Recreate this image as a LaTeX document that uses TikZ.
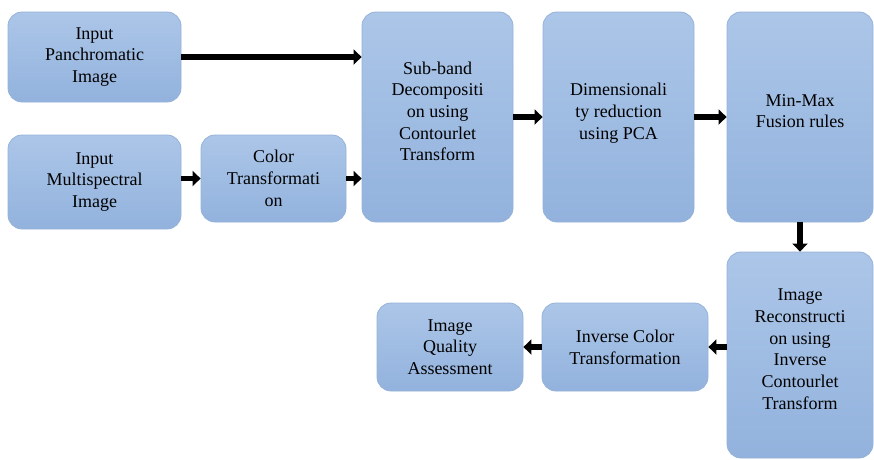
\documentclass[tikz,border=0pt]{standalone}
\usepackage{fontspec}
\setmainfont{Liberation Serif}
\usetikzlibrary{arrows.meta}

\definecolor{blocktop}{RGB}{172,198,232}
\definecolor{blockbot}{RGB}{146,178,221}
\definecolor{blockedge}{RGB}{150,178,216}

\begin{document}
\begin{tikzpicture}[x=1pt,y=-1pt,
   block/.style={draw=blockedge,line width=0.8pt,rounded corners=14pt,
      top color=blocktop,bottom color=blockbot,align=center,inner sep=0pt,
      font=\fontsize{18}{21.7}\selectfont},
   flow/.style={line width=5.5pt,-{Triangle[length=8pt,width=15pt]}},
   ]
   \useasboundingbox (0,0) rectangle (874,459);
   % input side
   \node[block,minimum width=173pt,minimum height=90pt] (pan) at (94.5,57)
      {Input\\Panchromatic\\Image};
   \node[block,minimum width=173pt,minimum height=94pt] (multi) at (94.5,182)
      {Input\\Multispectral\\Image};
   \node[block,minimum width=145pt,minimum height=87pt] (ctrans) at (273.5,178.5)
      {Color\\Transformati\\on};
   % tall processing blocks (text sits a little above the middle)
   \node[block,minimum width=151pt,minimum height=210pt] (subband) at (437.5,117)
      {Sub-band\\Decompositi\\on using\\Contourlet\\Transform\\[-10pt]};
   \node[block,minimum width=151pt,minimum height=210pt] (dimred) at (618.5,117)
      {Dimensionali\\ty reduction\\using PCA\\[-10pt]};
   \node[block,minimum width=146pt,minimum height=210pt] (fusion) at (800,117)
      {Min-Max\\Fusion rules\\[-10pt]};
   % output side
   \node[block,minimum width=146pt,minimum height=206pt] (recon) at (800,355)
      {Image\\Reconstructi\\on using\\Inverse\\Contourlet\\Transform\\[-10pt]};
   \node[block,minimum width=166pt,minimum height=88pt] (invcol) at (625,347)
      {Inverse Color\\Transformation};
   \node[block,minimum width=146pt,minimum height=88pt] (quality) at (450,347)
      {Image\\Quality\\Assessment};

   \draw[flow] (pan.east) -- (pan.east -| subband.west);
   \draw[flow] (multi.east |- ctrans) -- (ctrans.west);
   \draw[flow] (ctrans.east) -- (ctrans.east -| subband.west);
   \draw[flow] (subband) -- (dimred);
   \draw[flow] (dimred) -- (fusion);
   \draw[flow] (fusion) -- (recon);
   \draw[flow] (recon.west |- invcol) -- (invcol.east);
   \draw[flow] (invcol) -- (quality);
\end{tikzpicture}
\end{document}
